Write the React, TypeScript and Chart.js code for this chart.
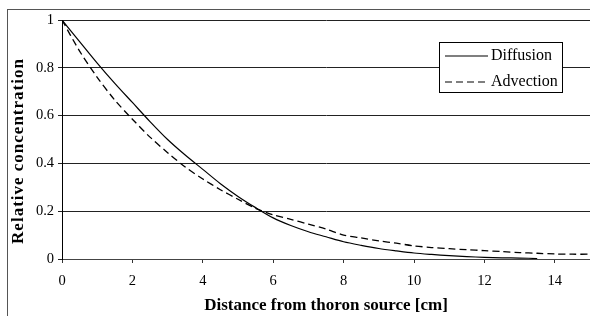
import React, { useEffect, useRef } from "react";
import { Chart, registerables } from "chart.js";

Chart.register(...registerables);

const distance = [0, 0.5, 1, 1.5, 2, 2.5, 3, 3.5, 4, 4.5, 5, 5.5, 6, 6.5, 7, 7.5, 8, 8.5, 9, 9.5, 10, 10.5, 11, 11.5, 12, 12.5, 13, 13.5, 14, 14.5, 15];
const diffusion = [1.0, 0.91, 0.82, 0.735, 0.655, 0.575, 0.5, 0.435, 0.375, 0.315, 0.262, 0.215, 0.172, 0.14, 0.114, 0.093, 0.072, 0.057, 0.044, 0.034, 0.025, 0.019, 0.014, 0.01, 0.007, 0.005, 0.004, 0.002, null, null, null];
const advection = [1.0, 0.87, 0.76, 0.665, 0.585, 0.51, 0.445, 0.385, 0.335, 0.29, 0.25, 0.212, 0.185, 0.166, 0.146, 0.125, 0.1, 0.088, 0.076, 0.066, 0.055, 0.048, 0.043, 0.039, 0.035, 0.031, 0.027, 0.024, 0.021, 0.02, 0.02];
const seriesLabels = ["Diffusion", "Advection"];
const xTickValues = [0, 2, 4, 6, 8, 10, 12, 14];
const xTitle = "Distance from thoron source [cm]";
const yTitle = "Relative concentration";

const FONT = "'Liberation Serif', 'Times New Roman', serif";

const framePlugin = {
  id: "frame",
  beforeDraw(chart: any) {
    const ctx = chart.ctx;
    ctx.save();
    ctx.fillStyle = "#ffffff";
    ctx.fillRect(0, 0, chart.width, chart.height);
    ctx.strokeStyle = "#555555";
    ctx.lineWidth = 1;
    ctx.strokeRect(7.5, 9.5, chart.width + 20, chart.height + 20);
    ctx.restore();
  },
};

const yTitlePlugin = {
  id: "yTitle",
  afterDraw(chart: any) {
    const ctx = chart.ctx;
    ctx.save();
    ctx.translate(19, 151);
    ctx.rotate(-Math.PI / 2);
    ctx.fillStyle = "#000000";
    ctx.font = `bold 17px ${FONT}`;
    try { (ctx as any).letterSpacing = "1px"; } catch (e) {}
    ctx.textAlign = "center";
    ctx.textBaseline = "middle";
    ctx.fillText(yTitle, 0, 0);
    ctx.restore();
  },
};

const legendPlugin = {
  id: "boxLegend",
  afterDraw(chart: any) {
    const ctx = chart.ctx;
    const x0 = 439.5, y0 = 42.5, w = 123, h = 50;
    ctx.save();
    ctx.fillStyle = "#ffffff";
    ctx.fillRect(x0, y0, w, h);
    ctx.strokeStyle = "#000000";
    ctx.lineWidth = 1;
    ctx.strokeRect(x0, y0, w, h);
    chart.data.datasets.forEach((ds: any, i: number) => {
      const y = 56 + i * 26;
      ctx.beginPath();
      ctx.strokeStyle = "#000000";
      ctx.lineWidth = 1.2;
      ctx.setLineDash(ds.borderDash || []);
      ctx.moveTo(445, y);
      ctx.lineTo(488, y);
      ctx.stroke();
      ctx.setLineDash([]);
      ctx.fillStyle = "#000000";
      ctx.font = `16px ${FONT}`;
      ctx.textBaseline = "middle";
      ctx.textAlign = "left";
      ctx.fillText(ds.label, 491, y);
    });
    ctx.restore();
  },
};

export default function App() {
  const ref = useRef<HTMLCanvasElement | null>(null);

  useEffect(() => {
    document.body.style.margin = "0";
    if (!ref.current) return;
    const chart = new Chart(ref.current, {
      type: "line",
      data: {
        labels: distance,
        datasets: [
          {
            label: seriesLabels[0],
            data: distance.map((x, i) => ({ x, y: diffusion[i] })),
            borderColor: "#000000",
            borderWidth: 1.2,
            pointRadius: 0,
            fill: false,
            tension: 0.3,
            spanGaps: false,
          },
          {
            label: seriesLabels[1],
            data: distance.map((x, i) => ({ x, y: advection[i] })),
            borderColor: "#000000",
            borderWidth: 1.3,
            borderDash: [7, 4],
            pointRadius: 0,
            fill: false,
            tension: 0.3,
          },
        ],
      },
      options: {
        animation: false,
        responsive: false,
        maintainAspectRatio: false,
        layout: { padding: { top: 20, left: 0, right: -3, bottom: 0 } },
        plugins: {
          legend: { display: false },
          tooltip: { enabled: false },
        },
        scales: {
          x: {
            type: "linear",
            min: 0,
            max: 15,
            afterBuildTicks: (scale: any) => {
              scale.ticks = xTickValues.map((v) => ({ value: v }));
            },
            afterFit: (scale: any) => {
              scale.height = 57;
            },
            grid: {
              drawOnChartArea: false,
              drawTicks: true,
              tickLength: 4,
              color: "#333333",
            },
            border: { display: true, color: "#444444", width: 1 },
            ticks: {
              color: "#000000",
              font: { family: FONT, size: 14.5 },
              padding: 9.5,
              maxRotation: 0,
              autoSkip: false,
            },
            title: {
              display: true,
              text: xTitle,
              color: "#000000",
              font: { family: FONT, size: 17, weight: "bold" },
              padding: { top: 0, bottom: 0 },
            },
          },
          y: {
            type: "linear",
            min: 0,
            max: 1,
            afterFit: (scale: any) => {
              scale.width = 62;
            },
            ticks: {
              stepSize: 0.2,
              color: "#000000",
              font: { family: FONT, size: 14.5 },
              padding: 4,
              callback: (v: any) => String(Math.round(Number(v) * 10) / 10),
            },
            grid: {
              drawOnChartArea: true,
              drawTicks: true,
              tickLength: 4,
              color: "#222222",
              lineWidth: 1,
            },
            border: { display: true, color: "#000000", width: 1 },
            title: { display: false },
          },
        },
      },
      plugins: [framePlugin, legendPlugin, yTitlePlugin],
    });
    return () => chart.destroy();
  }, []);

  return (
    <div style={{ position: "absolute", left: 0, top: 0, width: 590, height: 316 }}>
      <canvas ref={ref} width={590} height={316} style={{ width: 590, height: 316, display: "block" }} />
    </div>
  );
}
